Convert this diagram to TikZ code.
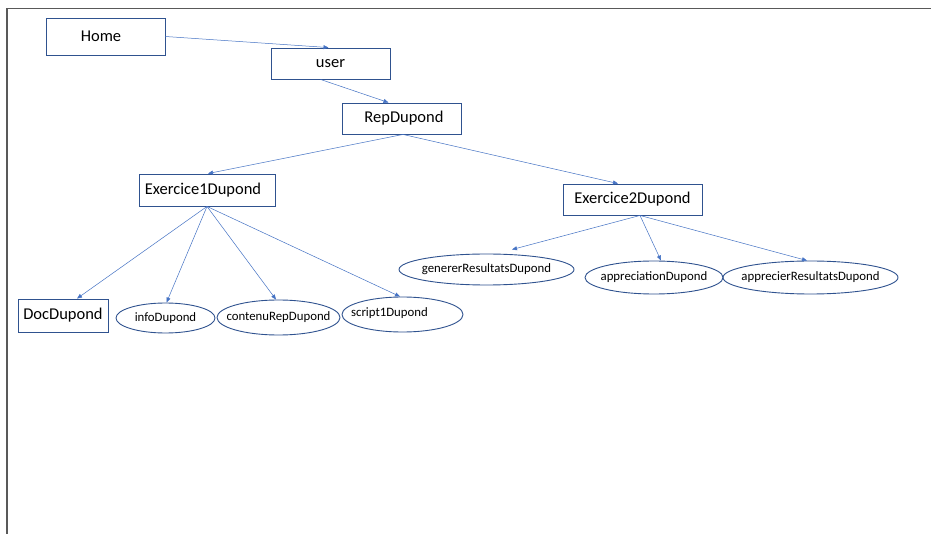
\documentclass[tikz,border=0pt]{standalone}
\usepackage{fontspec}
\setmainfont{Carlito}
\usetikzlibrary{arrows.meta,shapes.geometric}
\definecolor{boxblue}{HTML}{2F528F}
\definecolor{linkblue}{HTML}{4472C4}
\definecolor{framegray}{HTML}{595959}
\tikzset{
  bigfont/.style={font=\fontsize{16.5}{18}\selectfont},
  smallfont/.style={font=\fontsize{12.8}{14}\selectfont},
  boxnode/.style={draw=boxblue,line width=0.9pt,rectangle,inner sep=0pt,bigfont},
  ovalnode/.style={draw=boxblue,line width=0.9pt,ellipse,inner sep=0pt},
  link/.style={draw=linkblue,line width=0.5pt,-{Triangle[length=5pt,width=4pt]}}
}
\begin{document}
\begin{tikzpicture}[x=1pt,y=-1pt]
\useasboundingbox (0,0) rectangle (931,534);
\fill[white] (0,0) rectangle (931,534);
\draw[framegray,line width=1.5pt] (7,534) -- (7,8.5) -- (931,8.5);

\node[boxnode,minimum width=119pt,minimum height=37pt,label={[xshift=-4.5pt,bigfont]center:Home}] (home) at (105.5,36.5) {};
\node[boxnode,minimum width=119pt,minimum height=31pt] (user) at (330.5,63.5) {user};
\node[boxnode,minimum width=119pt,minimum height=31pt,label={[xshift=2.5pt,bigfont]center:RepDupond}] (rep) at (401.5,118.5) {};
\node[boxnode,minimum width=136pt,minimum height=32pt,label={[xshift=-4pt,bigfont]center:Exercice1Dupond}] (ex1) at (207,190) {};
\node[boxnode,minimum width=139pt,minimum height=31pt] (ex2) at (632.5,199.5) {Exercice2Dupond};
\node[boxnode,minimum width=90pt,minimum height=33pt] (doc) at (63,315.5) {DocDupond};

\node[ovalnode,minimum width=99pt,minimum height=30pt,label={[smallfont]center:infoDupond}] (info) at (165.5,318) {};
\node[ovalnode,minimum width=123pt,minimum height=35pt,label={[smallfont]center:contenuRepDupond}] (contenu) at (278.5,317.5) {};
\node[ovalnode,minimum width=121pt,minimum height=35pt,label={[xshift=-13pt,yshift=1.5pt,smallfont]center:script1Dupond}] (script) at (402.5,314.5) {};
\node[ovalnode,minimum width=175pt,minimum height=31pt,label={[smallfont]center:genererResultatsDupond}] (generer) at (486.5,269.5) {};
\node[ovalnode,minimum width=138pt,minimum height=33pt,label={[smallfont]center:appreciationDupond}] (appr) at (654,277.5) {};
\node[ovalnode,minimum width=175pt,minimum height=33pt,label={[smallfont]center:apprecierResultatsDupond}] (apprres) at (810.5,277.5) {};

\draw[link] (home.east) -- ([xshift=-2pt]user.north);
\draw[link] ([xshift=-10pt]user.south) -- ([xshift=-13pt]rep.north);
\draw[link] ([xshift=1.5pt]rep.south) -- ([xshift=1pt]ex1.north);
\draw[link] ([xshift=1.5pt]rep.south) -- ([xshift=-14.5pt]ex2.north);
\draw[link] (ex1.south) -- ([xshift=14pt]doc.north);
\draw[link] (ex1.south) -- ([xshift=1pt]info.north);
\draw[link] (ex1.south) -- ([xshift=-2.5pt]contenu.north);
\draw[link] (ex1.south) -- ([xshift=-2.5pt]script.north);
\draw[link] ([xshift=7.5pt]ex2.south) -- ([xshift=25.5pt,yshift=4pt]generer.north);
\draw[link] ([xshift=7.5pt]ex2.south) -- ([xshift=7pt]appr.north);
\draw[link] ([xshift=7.5pt]ex2.south) -- ([xshift=-3.5pt]apprres.north);
\end{tikzpicture}
\end{document}
